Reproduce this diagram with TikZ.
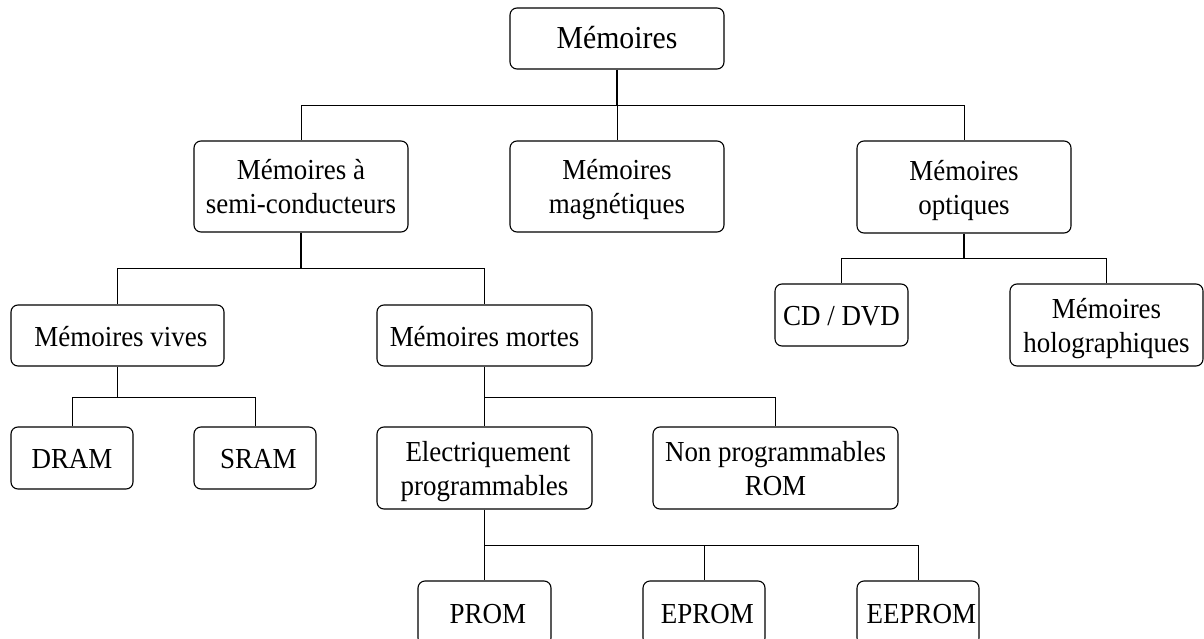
\documentclass[tikz,border=0pt]{standalone}
\usepackage{fontspec}
\setmainfont{Liberation Serif}[FakeStretch=0.93]
\newcommand\boxstrut{\rule[-6pt]{0pt}{33pt}}
\begin{document}
\begin{tikzpicture}[x=1pt,y=1pt,
  box/.style={draw, rounded corners=7pt, line width=1.1pt, inner sep=0pt,
    align=center, font=\fontsize{29}{31.5}\selectfont},
  bigbox/.style={box, font=\fontsize{32}{34}\selectfont},
  stem/.style={line width=1.8pt},
  wire/.style={line width=1pt}]
\useasboundingbox (0,0) rectangle (1204,-639);
\clip (0,0) rectangle (1204,-639);

% level 0
\node[bigbox, minimum width=214pt, minimum height=61pt] (mem) at (617,-38.5) {\boxstrut Mémoires};

% level 1
\node[box, minimum width=214pt, minimum height=91pt] (semi) at (301,-186.5)
  {\boxstrut Mémoires à\\\boxstrut semi-conducteurs};
\node[box, minimum width=214pt, minimum height=91pt] (mag) at (617,-186.5)
  {\boxstrut Mémoires\\\boxstrut magnétiques};
\node[box, minimum width=214pt, minimum height=92pt] (opt) at (964,-187)
  {\boxstrut Mémoires\\\boxstrut optiques};

% level 2
\node[box, minimum width=213pt, minimum height=61pt] (vives) at (117.5,-335.5) {\boxstrut\ Mémoires vives};
\node[box, minimum width=215pt, minimum height=61pt] (mortes) at (484.5,-335.5) {\boxstrut Mémoires mortes};
\node[box, minimum width=133pt, minimum height=62pt] (cd) at (841.5,-315) {\boxstrut CD / DVD};
\node[box, minimum width=193pt, minimum height=82pt] (holo) at (1106.5,-325)
  {\boxstrut Mémoires\\\boxstrut holographiques};

% level 3
\node[box, minimum width=122pt, minimum height=62pt] (dram) at (72,-458) {\boxstrut DRAM};
\node[box, minimum width=122pt, minimum height=62pt] (sram) at (255,-458) {\boxstrut\ SRAM};
\node[box, minimum width=215pt, minimum height=82pt] (elec) at (484.5,-468)
  {\boxstrut\ Electriquement\\\boxstrut programmables};
\node[box, minimum width=245pt, minimum height=82pt] (nonprog) at (775.5,-468)
  {\boxstrut Non programmables\\\boxstrut ROM};

% level 4
\node[box, minimum width=133pt, minimum height=64pt] (prom) at (484.5,-613) {\boxstrut\ PROM};
\node[box, minimum width=122pt, minimum height=64pt] (eprom) at (704,-613) {\boxstrut\ EPROM};
\node[box, minimum width=122pt, minimum height=64pt] (eeprom) at (918,-613) {\boxstrut\ EEPROM};

% connectors
\draw[stem] (mem.south) -- ++(0,-36) coordinate (j1);
\draw[wire] (j1) -| (semi.north);
\draw[wire] (j1) -- (mag.north);
\draw[wire] (j1) -| (opt.north);

\draw[stem] (semi.south) -- ++(0,-36) coordinate (j2);
\draw[wire] (j2) -| (vives.north);
\draw[wire] (j2) -| (mortes.north);

\draw[stem] (opt.south) -- ++(0,-25) coordinate (j3);
\draw[wire] (j3) -| (cd.north);
\draw[wire] (j3) -| (holo.north);

\draw[stem] (vives.south) -- ++(0,-31) coordinate (j4);
\draw[wire] (j4) -| (dram.north);
\draw[wire] (j4) -| (sram.north);

\draw[stem] (mortes.south) -- ++(0,-31) coordinate (j5);
\draw[wire] (j5) -- (elec.north);
\draw[wire] (j5) -| (nonprog.north);

\draw[stem] (elec.south) -- ++(0,-36) coordinate (j6);
\draw[wire] (j6) -- (prom.north);
\draw[stem] (j6) -- (eprom.north |- j6) coordinate (j7);
\draw[wire] (j7) -- (eprom.north);
\draw[wire] (j7) -| (eeprom.north);
\end{tikzpicture}
\end{document}
